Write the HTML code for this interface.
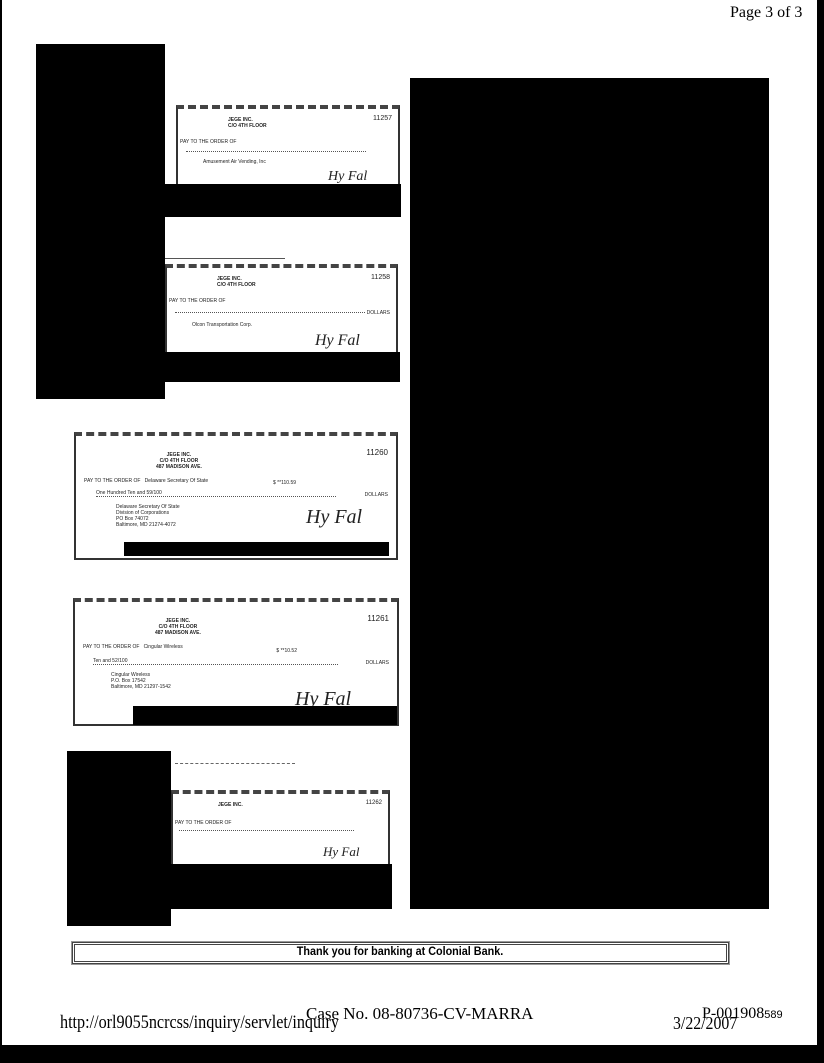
<!DOCTYPE html>
<html><head><meta charset="utf-8"><style>
body{margin:0;width:824px;height:1063px;position:relative;background:#fff;overflow:hidden;font-family:"Liberation Serif",serif}
.b{position:absolute;background:#000}
.ck{position:absolute;border:2px solid #333;border-top:4px dashed #444;background:#fff;font-family:"Liberation Sans",sans-serif;font-size:5px;color:#222;overflow:hidden}
.ck div{position:absolute;white-space:nowrap}
.sg{font-style:italic;font-family:'Liberation Serif',serif}
.t{position:absolute;white-space:nowrap}
</style></head><body>
<div class="b" style="left:0;top:0;width:2px;height:1063px"></div>
<div class="b" style="left:817px;top:0;width:7px;height:1063px"></div>
<div class="t" style="left:730px;top:4px;font-size:16px">Page 3 of 3</div>

<div class="b" style="left:36px;top:44px;width:129px;height:355px"></div>
<div class="ck" style="left:176px;top:105px;width:220px;height:80px">
<div style="left:50px;top:8px;font-weight:bold">JEGE INC.<br>C/O 4TH FLOOR</div>
<div style="right:6px;top:6px;font-size:7px">11257</div>
<div style="left:2px;top:30px">PAY TO THE ORDER OF</div>
<div style="left:8px;top:42px;width:180px;border-bottom:1px dotted #555"></div>
<div style="left:25px;top:50px">Amusement Air Vending, Inc</div>
<div class="sg" style="left:150px;top:60px;font-size:14px">Hy Fal</div>
</div>
<div class="b" style="left:165px;top:184px;width:236px;height:33px"></div>

<div style="position:absolute;left:165px;top:258px;width:120px;border-top:1px solid #555"></div>
<div class="ck" style="left:165px;top:264px;width:229px;height:90px">
<div style="left:50px;top:8px;font-weight:bold">JEGE INC.<br>C/O 4TH FLOOR</div>
<div style="right:6px;top:6px;font-size:7px">11258</div>
<div style="left:2px;top:30px">PAY TO THE ORDER OF</div>
<div style="left:8px;top:44px;width:190px;border-bottom:1px dotted #555"></div>
<div style="right:6px;top:42px">DOLLARS</div>
<div style="left:25px;top:54px">Olcon Transportation Corp.</div>
<div class="sg" style="left:148px;top:64px;font-size:16px">Hy Fal</div>
</div>
<div class="b" style="left:165px;top:352px;width:235px;height:30px"></div>

<div class="ck" style="left:74px;top:432px;width:320px;height:122px">
<div style="left:80px;top:16px;font-weight:bold;text-align:center">JEGE INC.<br>C/O 4TH FLOOR<br>487 MADISON AVE.</div>
<div style="right:8px;top:12px;font-size:8px">11260</div>
<div style="left:8px;top:42px">PAY TO THE ORDER OF &nbsp; Delaware Secretary Of State</div>
<div style="right:100px;top:44px">$ **110.59</div>
<div style="left:20px;top:54px;width:240px;border-bottom:1px dotted #555">One Hundred Ten and 59/100</div>
<div style="right:8px;top:56px">DOLLARS</div>
<div style="left:40px;top:68px;line-height:6px">Delaware Secretary Of State<br>Division of Corporations<br>PO Box 74072<br>Baltimore, MD 21274-4072</div>
<div class="sg" style="left:230px;top:70px;font-size:20px">Hy Fal</div>
</div>
<div class="b" style="left:124px;top:542px;width:265px;height:14px"></div>

<div class="ck" style="left:73px;top:598px;width:322px;height:122px">
<div style="left:80px;top:16px;font-weight:bold;text-align:center">JEGE INC.<br>C/O 4TH FLOOR<br>487 MADISON AVE.</div>
<div style="right:8px;top:12px;font-size:8px">11261</div>
<div style="left:8px;top:42px">PAY TO THE ORDER OF &nbsp; Cingular Wireless</div>
<div style="right:100px;top:46px">$ **10.52</div>
<div style="left:18px;top:56px;width:245px;border-bottom:1px dotted #555">Ten and 52/100</div>
<div style="right:8px;top:58px">DOLLARS</div>
<div style="left:36px;top:70px;line-height:6px">Cingular Wireless<br>P.O. Box 17542<br>Baltimore, MD 21297-1542</div>
<div class="sg" style="left:220px;top:86px;font-size:20px">Hy Fal</div>
</div>
<div class="b" style="left:133px;top:706px;width:264px;height:19px"></div>

<div class="b" style="left:67px;top:751px;width:104px;height:175px"></div>
<div style="position:absolute;left:175px;top:763px;width:120px;border-top:1px dashed #666"></div>
<div class="ck" style="left:171px;top:790px;width:215px;height:74px">
<div style="right:6px;top:6px;font-size:6px">11262</div>
<div style="left:45px;top:8px;font-weight:bold">JEGE INC.</div>
<div style="left:2px;top:26px">PAY TO THE ORDER OF</div>
<div style="left:6px;top:36px;width:175px;border-bottom:1px dotted #555"></div>
<div class="sg" style="left:150px;top:50px;font-size:13px">Hy Fal</div>
</div>
<div class="b" style="left:171px;top:864px;width:221px;height:45px"></div>

<div class="b" style="left:410px;top:78px;width:359px;height:831px"></div>

<div style="position:absolute;left:72px;top:942px;width:651px;height:16px;border:3px double #444;box-shadow:0 0 0 1px #999"></div>
<div class="t" style="left:0;width:800px;top:944px;text-align:center;font-family:'Liberation Sans',sans-serif;font-size:12px;font-weight:bold;transform:scaleX(0.9)">Thank you for banking at Colonial Bank.</div>

<div class="t" style="left:60px;top:1012px;font-size:19px;transform-origin:0 0;transform:scaleX(0.85)">http://orl9055ncrcss/inquiry/servlet/inquiry</div>
<div class="t" style="left:306px;top:1004px;font-size:17px">Case No. 08-80736-CV-MARRA</div>
<div class="t" style="left:673px;top:1013px;font-size:18px;transform-origin:0 0;transform:scaleX(0.88)">3/22/2007</div>
<div class="t" style="left:702px;top:1005px;font-size:16px">P-001908<span style="font-family:'Liberation Sans',sans-serif;font-size:11px">589</span></div>
<div class="b" style="left:0;top:1045px;width:824px;height:18px"></div>
</body></html>
